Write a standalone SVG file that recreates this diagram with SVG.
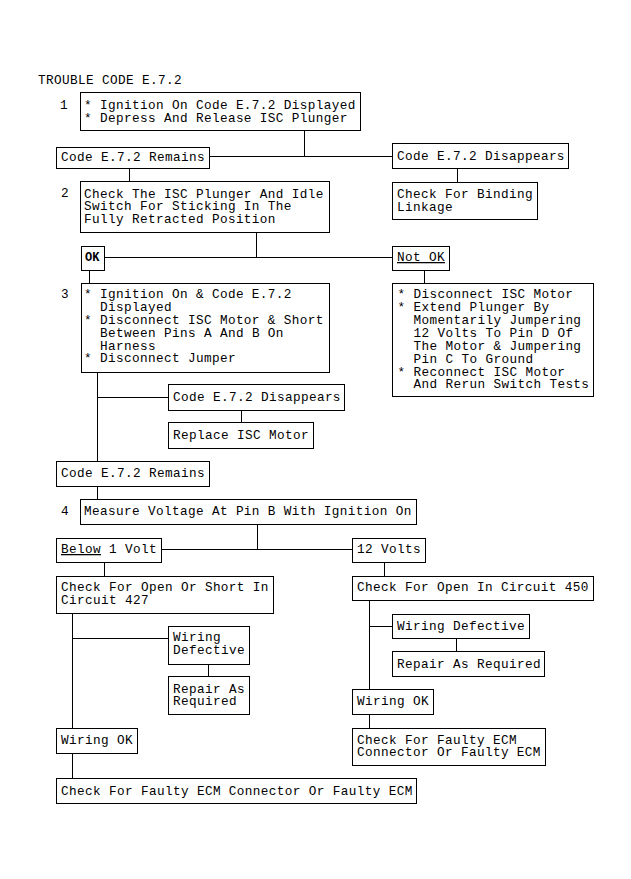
<svg xmlns="http://www.w3.org/2000/svg" width="631" height="879" viewBox="0 0 631 879">
<style>
rect.b{fill:#fff;stroke:#000;stroke-width:1;shape-rendering:crispEdges}
.c line{stroke:#000;stroke-width:1;shape-rendering:crispEdges}
text{font-family:"Liberation Mono","DejaVu Sans Mono",monospace;font-size:12.7px;letter-spacing:0.38px;fill:#000}
text.ok{font-weight:bold;font-size:12px;letter-spacing:0}
.u{text-decoration:underline}
</style>
<rect width="631" height="879" fill="#fff"/>
<text x="38" y="84">TROUBLE CODE E.7.2</text>
<g id="steps">
<text x="60" y="109">1</text>
<text x="61" y="197">2</text>
<text x="61" y="298">3</text>
<text x="61" y="515">4</text>
</g>
<g class="c" id="connectors">
<line x1="304.5" y1="130" x2="304.5" y2="156"/>
<line x1="209" y1="156.5" x2="392" y2="156.5"/>
<line x1="129.5" y1="168" x2="129.5" y2="181"/>
<line x1="457.5" y1="168" x2="457.5" y2="182"/>
<line x1="256.5" y1="232" x2="256.5" y2="257"/>
<line x1="104" y1="257.5" x2="392" y2="257.5"/>
<line x1="89.5" y1="270" x2="89.5" y2="283"/>
<line x1="424.5" y1="270" x2="424.5" y2="283"/>
<line x1="97.5" y1="372" x2="97.5" y2="461"/>
<line x1="97" y1="397.5" x2="168" y2="397.5"/>
<line x1="241.5" y1="411" x2="241.5" y2="422"/>
<line x1="97.5" y1="487" x2="97.5" y2="499"/>
<line x1="257.5" y1="524" x2="257.5" y2="549"/>
<line x1="161" y1="549.5" x2="352" y2="549.5"/>
<line x1="104.5" y1="562" x2="104.5" y2="576"/>
<line x1="384.5" y1="562" x2="384.5" y2="576"/>
<line x1="72.5" y1="613" x2="72.5" y2="728"/>
<line x1="72" y1="638.5" x2="168" y2="638.5"/>
<line x1="208.5" y1="664" x2="208.5" y2="676"/>
<line x1="72.5" y1="753" x2="72.5" y2="778"/>
<line x1="369.5" y1="600" x2="369.5" y2="689"/>
<line x1="369" y1="626.5" x2="392" y2="626.5"/>
<line x1="456.5" y1="638" x2="456.5" y2="651"/>
<line x1="369.5" y1="714" x2="369.5" y2="728"/>
</g>
<g id="n1"><rect class="b" x="80.5" y="92.5" width="280" height="38"/>
<text x="84" y="109">* Ignition On Code E.7.2 Displayed</text>
<text x="84" y="122">* Depress And Release ISC Plunger</text></g>
<g id="n2"><rect class="b" x="56.5" y="147.5" width="153" height="21"/>
<text x="61" y="161">Code E.7.2 Remains</text></g>
<g id="n3"><rect class="b" x="392.5" y="143.5" width="176" height="25"/>
<text x="397" y="159.5">Code E.7.2 Disappears</text></g>
<g id="n4"><rect class="b" x="392.5" y="182.5" width="145" height="37"/>
<text x="397" y="198">Check For Binding</text>
<text x="397" y="210.5">Linkage</text></g>
<g id="n5"><rect class="b" x="80.5" y="181.5" width="249" height="51"/>
<text x="84" y="197.5">Check The ISC Plunger And Idle</text>
<text x="84" y="210.3">Switch For Sticking In The</text>
<text x="84" y="223">Fully Retracted Position</text></g>
<g id="n6"><rect class="b" x="81.5" y="246.5" width="23" height="24"/>
<text class="ok" x="85" y="261">OK</text></g>
<g id="n7"><rect class="b" x="392.5" y="246.5" width="57" height="24"/>
<text class="u" x="397" y="261">Not OK</text></g>
<g id="n8"><rect class="b" x="81.5" y="283.5" width="248" height="89"/>
<text x="84" y="298.3">* Ignition On &amp; Code E.7.2</text>
<text x="100" y="311.1">Displayed</text>
<text x="84" y="323.9">* Disconnect ISC Motor &amp; Short</text>
<text x="100" y="336.7">Between Pins A And B On</text>
<text x="100" y="349.5">Harness</text>
<text x="84" y="362.3">* Disconnect Jumper</text></g>
<g id="n9"><rect class="b" x="392.5" y="283.5" width="201" height="113"/>
<text x="397.5" y="298.3">* Disconnect ISC Motor</text>
<text x="397.5" y="311.2">* Extend Plunger By</text>
<text x="413.5" y="324.1">Momentarily Jumpering</text>
<text x="413.5" y="336.9">12 Volts To Pin D Of</text>
<text x="413.5" y="349.8">The Motor &amp; Jumpering</text>
<text x="413.5" y="362.6">Pin C To Ground</text>
<text x="397.5" y="375.5">* Reconnect ISC Motor</text>
<text x="413.5" y="388.3">And Rerun Switch Tests</text></g>
<g id="n10"><rect class="b" x="168.5" y="384.5" width="176" height="26"/>
<text x="173" y="401">Code E.7.2 Disappears</text></g>
<g id="n11"><rect class="b" x="168.5" y="422.5" width="145" height="26"/>
<text x="173" y="439">Replace ISC Motor</text></g>
<g id="n12"><rect class="b" x="56.5" y="461.5" width="153" height="25"/>
<text x="61" y="477">Code E.7.2 Remains</text></g>
<g id="n13"><rect class="b" x="80.5" y="499.5" width="336" height="25"/>
<text x="84" y="515">Measure Voltage At Pin B With Ignition On</text></g>
<g id="n14"><rect class="b" x="56.5" y="538.5" width="105" height="24"/>
<text x="61" y="553"><tspan class="u">Below</tspan> 1 Volt</text></g>
<g id="n15"><rect class="b" x="352.5" y="538.5" width="73" height="24"/>
<text x="357" y="553">12 Volts</text></g>
<g id="n16"><rect class="b" x="56.5" y="576.5" width="217" height="37"/>
<text x="61" y="591">Check For Open Or Short In</text>
<text x="61" y="603.5">Circuit 427</text></g>
<g id="n17"><rect class="b" x="352.5" y="576.5" width="241" height="24"/>
<text x="357" y="591">Check For Open In Circuit 450</text></g>
<g id="n18"><rect class="b" x="168.5" y="626.5" width="81" height="38"/>
<text x="173" y="641">Wiring</text>
<text x="173" y="654.3">Defective</text></g>
<g id="n19"><rect class="b" x="168.5" y="676.5" width="81" height="38"/>
<text x="173" y="692.7">Repair As</text>
<text x="173" y="705.3">Required</text></g>
<g id="n20"><rect class="b" x="56.5" y="728.5" width="81" height="25"/>
<text x="61" y="743.5">Wiring OK</text></g>
<g id="n21"><rect class="b" x="56.5" y="778.5" width="360" height="25"/>
<text x="61" y="795">Check For Faulty ECM Connector Or Faulty ECM</text></g>
<g id="n22"><rect class="b" x="392.5" y="614.5" width="137" height="24"/>
<text x="397" y="630">Wiring Defective</text></g>
<g id="n23"><rect class="b" x="392.5" y="651.5" width="152" height="25"/>
<text x="397" y="668">Repair As Required</text></g>
<g id="n24"><rect class="b" x="352.5" y="689.5" width="81" height="25"/>
<text x="357" y="705">Wiring OK</text></g>
<g id="n25"><rect class="b" x="352.5" y="728.5" width="193" height="37"/>
<text x="357" y="743.5">Check For Faulty ECM</text>
<text x="357" y="756">Connector Or Faulty ECM</text></g>
</svg>
